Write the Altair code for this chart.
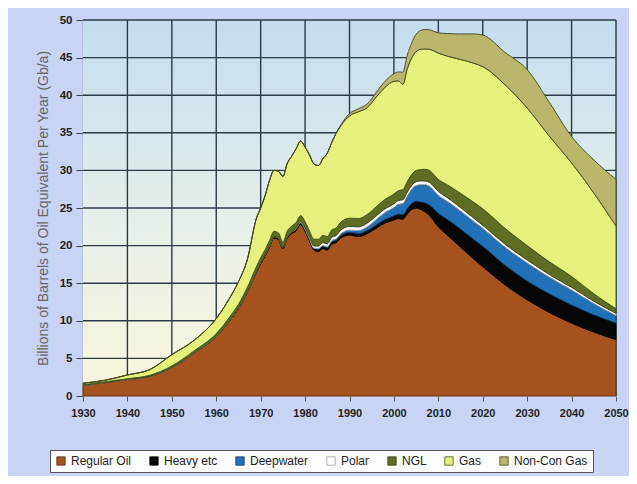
import altair as alt
import pandas as pd

years = [1930, 1935, 1940, 1945, 1950, 1955, 1960, 1963, 1965, 1967, 1969, 1970,
         1971, 1972, 1973, 1974, 1975, 1976, 1977, 1978, 1979, 1980, 1981, 1982,
         1983, 1984, 1985, 1986, 1987, 1988, 1990, 1992, 1994, 1996, 1998, 2000,
         2001, 2002, 2003, 2004, 2005, 2006, 2007, 2008, 2010, 2012, 2015, 2018,
         2020, 2025, 2030, 2035, 2040, 2045, 2050]

regular_oil = [1.4, 1.8, 2.2, 2.6, 3.8, 5.7, 7.9, 10.0, 11.6, 13.8, 16.4, 17.6,
               18.6, 19.8, 21.0, 20.8, 19.6, 21.0, 21.6, 22.0, 22.8, 21.9, 20.6, 19.4,
               19.2, 19.6, 19.4, 20.2, 20.4, 21.0, 21.4, 21.2, 21.6, 22.3, 23.0, 23.4,
               23.6, 23.5, 24.2, 24.8, 25.0, 24.8, 24.5, 24.0, 22.5, 21.4, 19.8, 18.2,
               17.2, 14.8, 12.8, 11.1, 9.7, 8.5, 7.5]
heavy = [0, 0, 0, 0, 0, 0, 0, 0.05, 0.1, 0.1, 0.15, 0.2,
         0.2, 0.2, 0.2, 0.2, 0.2, 0.2, 0.2, 0.2, 0.25, 0.25, 0.25, 0.25,
         0.3, 0.3, 0.3, 0.3, 0.3, 0.35, 0.35, 0.4, 0.4, 0.45, 0.5, 0.55,
         0.6, 0.6, 0.7, 0.8, 0.9, 1.0, 1.2, 1.4, 1.8, 2.1, 2.4, 2.6,
         2.7, 2.6, 2.5, 2.5, 2.4, 2.3, 2.2]
deepwater = [0, 0, 0, 0, 0, 0, 0, 0, 0, 0, 0, 0,
             0, 0, 0, 0, 0, 0, 0, 0, 0, 0, 0, 0,
             0.1, 0.1, 0.15, 0.15, 0.2, 0.2, 0.3, 0.4, 0.5, 0.7, 0.9, 1.1,
             1.3, 1.5, 1.7, 1.9, 2.1, 2.3, 2.4, 2.5, 2.4, 2.4, 2.4, 2.4,
             2.4, 2.4, 2.4, 2.2, 2.0, 1.5, 1.0]
polar = [0, 0, 0, 0, 0, 0, 0, 0, 0, 0, 0, 0,
         0, 0, 0, 0, 0, 0, 0, 0.1, 0.15, 0.2, 0.25, 0.3,
         0.35, 0.4, 0.4, 0.45, 0.45, 0.5, 0.5, 0.5, 0.5, 0.5, 0.5, 0.5,
         0.5, 0.5, 0.5, 0.5, 0.5, 0.5, 0.5, 0.5, 0.5, 0.5, 0.45, 0.45,
         0.4, 0.4, 0.4, 0.35, 0.35, 0.3, 0.3]
ngl = [0.1, 0.1, 0.1, 0.15, 0.2, 0.3, 0.4, 0.45, 0.5, 0.55, 0.6, 0.6,
       0.65, 0.7, 0.7, 0.7, 0.7, 0.75, 0.8, 0.8, 0.8, 0.85, 0.85, 0.9,
       0.9, 0.95, 0.95, 1.0, 1.0, 1.05, 1.1, 1.1, 1.15, 1.2, 1.25, 1.3,
       1.3, 1.35, 1.4, 1.45, 1.5, 1.5, 1.55, 1.6, 1.6, 1.7, 1.9, 2.1,
       2.2, 2.1, 1.9, 1.7, 1.45, 1.0, 0.6]
gas = [0.2, 0.2, 0.5, 0.75, 1.5, 1.4, 2.0, 2.5, 3.0, 3.7, 6.4, 6.6,
       7.2, 8.0, 8.1, 8.2, 8.7, 9.0, 9.3, 9.8, 9.9, 9.9, 10.1, 10.0,
       9.8, 10.2, 11.1, 11.6, 12.6, 12.8, 13.6, 14.2, 14.2, 14.6, 14.9, 15.0,
       14.6, 14.0, 15.0, 15.5, 15.8, 16.0, 16.0, 16.1, 16.8, 17.1, 17.8, 18.5,
       18.9, 19.1, 18.3, 16.7, 15.1, 13.4, 11.0]
non_con_gas = [0, 0, 0, 0, 0, 0, 0, 0, 0, 0, 0, 0,
               0, 0, 0, 0, 0, 0, 0, 0, 0, 0, 0, 0,
               0, 0, 0, 0, 0, 0.1, 0.3, 0.4, 0.5, 0.6, 0.8, 1.0,
               1.2, 1.6, 1.8, 2.0, 2.3, 2.5, 2.6, 2.6, 2.7, 3.0, 3.4, 3.9,
               4.2, 4.3, 5.1, 4.5, 3.5, 4.4, 6.2]

series_names = ["Regular Oil", "Heavy etc", "Deepwater", "Polar", "NGL", "Gas", "Non-Con Gas"]
series_values = [regular_oil, heavy, deepwater, polar, ngl, gas, non_con_gas]
fill_colors = ["#a5521e", "#060606", "#2270b6", "#ffffff", "#5e6d22", "#e6f07c", "#b9b66c"]
stroke_colors = ["#5a2a0a", "#000000", "#0d3c6a", "#9a9a9a", "#3a4612", "#3d5518", "#454520"]

decades = [1930, 1940, 1950, 1960, 1970, 1980, 1990, 2000, 2010, 2020, 2030, 2040, 2050]
y_ticks = [0, 5, 10, 15, 20, 25, 30, 35, 40, 45, 50]

rows = []
for i, name in enumerate(series_names):
    for yr, v in zip(years, series_values[i]):
        rows.append({"year": yr, "value": v, "series": name, "idx": i})
df = pd.DataFrame(rows)

W, H = 533, 376
FONT = "Liberation Sans"
x_scale = alt.Scale(domain=[1930, 2050], nice=False, zero=False)
y_scale = alt.Scale(domain=[0, 50], nice=False)

x_axis = alt.Axis(values=decades, format="d", title=None, grid=False,
                  labelFont=FONT, labelFontSize=11, labelFontWeight="bold",
                  labelColor="#222222", labelPadding=6, tickSize=5,
                  tickColor="#555555", domain=False, labelFlush=False)
y_axis = alt.Axis(values=y_ticks, title="Billions of Barrels of Oil Equivalent Per Year (Gb/a)",
                  grid=False, labelFont=FONT, labelFontSize=11.5, labelFontWeight="bold",
                  labelColor="#222222", labelPadding=4, tickSize=7, tickColor="#444444",
                  domainColor="#8090a0", domainWidth=1.5,
                  titleFont=FONT, titleFontSize=14, titleFontWeight="normal",
                  titleColor="#666666", titlePadding=9)

bg = alt.Chart(pd.DataFrame({"a": [0]})).mark_rect(
    color=alt.Gradient(
        gradient="linear",
        stops=[alt.GradientStop(color="#c4dcee", offset=0),
               alt.GradientStop(color="#e7f0ea", offset=0.55),
               alt.GradientStop(color="#fbf6dd", offset=1)],
        x1=0, x2=0, y1=0, y2=1)
).encode(x=alt.value(0), x2=alt.value(W), y=alt.value(0), y2=alt.value(H))

xgrid = alt.Chart(pd.DataFrame({"year": decades[1:]})).mark_rule(
    color="#2c3a47", strokeWidth=1.4).encode(
    x=alt.X("year:Q", scale=x_scale, axis=x_axis))

ygrid = alt.Chart(pd.DataFrame({"value": y_ticks[1:]})).mark_rule(
    color="#2c3a47", strokeWidth=1.4).encode(
    y=alt.Y("value:Q", scale=y_scale, axis=y_axis))

areas = alt.Chart(df).mark_area(interpolate="monotone", strokeWidth=0.9).encode(
    x=alt.X("year:Q", scale=x_scale, axis=x_axis),
    y=alt.Y("value:Q", stack="zero", scale=y_scale, axis=y_axis),
    color=alt.Color("series:N",
                    scale=alt.Scale(domain=series_names, range=fill_colors),
                    legend=alt.Legend(orient="none", legendX=-33, legendY=430,
                                      direction="horizontal", title=None,
                                      fillColor="#fdfdfd", strokeColor="#555555",
                                      padding=5, symbolType="square", symbolSize=70,
                                      symbolStrokeColor="#333333", symbolStrokeWidth=0.8,
                                      labelFont=FONT, labelFontSize=12,
                                      labelColor="#222222", columnPadding=16,
                                      symbolOpacity=1)),
    stroke=alt.Stroke("series:N",
                      scale=alt.Scale(domain=series_names, range=stroke_colors),
                      legend=None),
    order=alt.Order("idx:Q", sort="ascending"),
)

chart = alt.layer(bg, xgrid, ygrid, areas).properties(
    width=W, height=H,
    background="#c9d3f4",
    padding={"left": 75, "top": 12, "right": 13, "bottom": 80},
    autosize=alt.AutoSizeParams(type="none"),
).configure_view(stroke=None)

chart.save("out.html", embed_options={"renderer": "svg", "actions": False})
